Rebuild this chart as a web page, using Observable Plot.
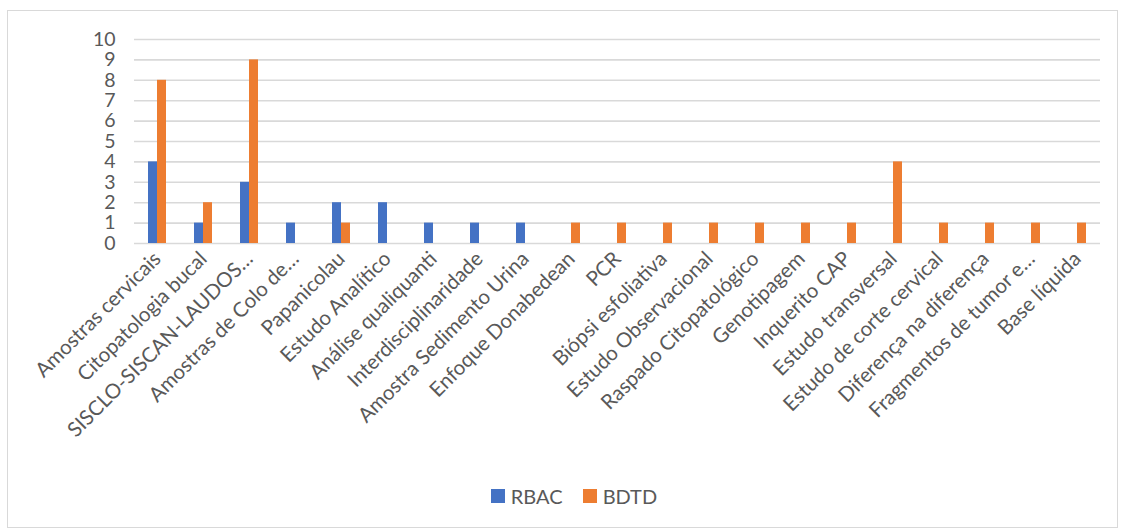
<!DOCTYPE html>
<html>
<head>
<meta charset="utf-8">
<script src="https://cdn.jsdelivr.net/npm/d3@7"></script>
<script src="https://cdn.jsdelivr.net/npm/@observablehq/plot@0.6"></script>
<style>
  html, body { margin: 0; padding: 0; background: #fff; }
  body { width: 1126px; height: 532px; position: relative; overflow: hidden; font-family: Lato, "Noto Sans", sans-serif; }
  #frame { position: absolute; left: 7px; top: 10px; width: 1111px; height: 518px; border: 1.5px solid #d9d9d9; box-sizing: border-box; }
  #chart { position: absolute; left: 0; top: 0; }
  #legend { position: absolute; left: 0; top: 484px; width: 1126px; display: flex; justify-content: center; align-items: center; gap: 0; font-size: 20px; color: #595959; padding-left: 22px; box-sizing: border-box; }
  .item { display: flex; align-items: center; margin: 0 10px; }
  .sw { width: 14px; height: 14px; margin-right: 6px; }
</style>
</head>
<body>
<div id="frame"></div>
<div id="chart"></div>
<div id="legend"></div>
<script>
const categories = [
  "Amostras cervicais", "Citopatologia bucal", "SISCLO-SISCAN-LAUDOS…", "Amostras de Colo de…",
  "Papanicolau", "Estudo Analítico", "Análise qualiquanti", "Interdisciplinaridade",
  "Amostra Sedimento Urina", "Enfoque Donabedean", "PCR", "Biópsi esfoliativa",
  "Estudo Observacional", "Raspado Citopatológico", "Genotipagem", "Inquerito CAP",
  "Estudo transversal", "Estudo de corte cervical", "Diferença na diferença",
  "Fragmentos de tumor e…", "Base líquida"
];
const rbac = [4, 1, 3, 1, 2, 2, 1, 1, 1, 0, 0, 0, 0, 0, 0, 0, 0, 0, 0, 0, 0];
const bdtd = [8, 2, 9, 0, 1, 0, 0, 0, 0, 1, 1, 1, 1, 1, 1, 1, 4, 1, 1, 1, 1];
const seriesNames = ["RBAC", "BDTD"];
const seriesColors = ["#4472C4", "#ED7D31"];
const yTicks = [0, 1, 2, 3, 4, 5, 6, 7, 8, 9, 10];

const data = categories.flatMap((c, i) => [
  {cat: c, series: seriesNames[0], value: rbac[i]},
  {cat: c, series: seriesNames[1], value: bdtd[i]}
]);

const chart = Plot.plot({
  width: 1126,
  height: 470,
  marginLeft: 134,
  marginRight: 26,
  marginTop: 39,
  marginBottom: 227,
  style: {fontFamily: "Lato, 'Noto Sans', sans-serif", color: "#595959", background: "transparent"},
  fx: {domain: categories, padding: 0, label: null},
  x: {domain: seriesNames, paddingInner: 0, paddingOuter: 1.55, axis: null},
  y: {domain: [0, 10], label: null},
  color: {domain: seriesNames, range: seriesColors},
  marks: [
    Plot.gridY(yTicks, {stroke: "#d9d9d9", strokeOpacity: 1, strokeWidth: 1.6}),
    Plot.barY(data, {fx: "cat", x: "series", y: "value", fill: "series"}),
    Plot.axisY(yTicks, {tickSize: 0, tickPadding: 19, fontSize: 19.5, label: null, fill: "#595959"}),
    Plot.axisFx({anchor: "bottom", tickRotate: -45, tickSize: 0, tickPadding: 12, fontSize: 20.5, label: null, fill: "#595959", textOverflow: null, lineWidth: Infinity})
  ]
});
document.getElementById("chart").appendChild(chart);

const legend = document.getElementById("legend");
seriesNames.forEach((s, i) => {
  const item = document.createElement("div");
  item.className = "item";
  const sw = document.createElement("div");
  sw.className = "sw";
  sw.style.background = seriesColors[i];
  const t = document.createElement("span");
  t.textContent = s;
  item.appendChild(sw);
  item.appendChild(t);
  legend.appendChild(item);
});
</script>
</body>
</html>
